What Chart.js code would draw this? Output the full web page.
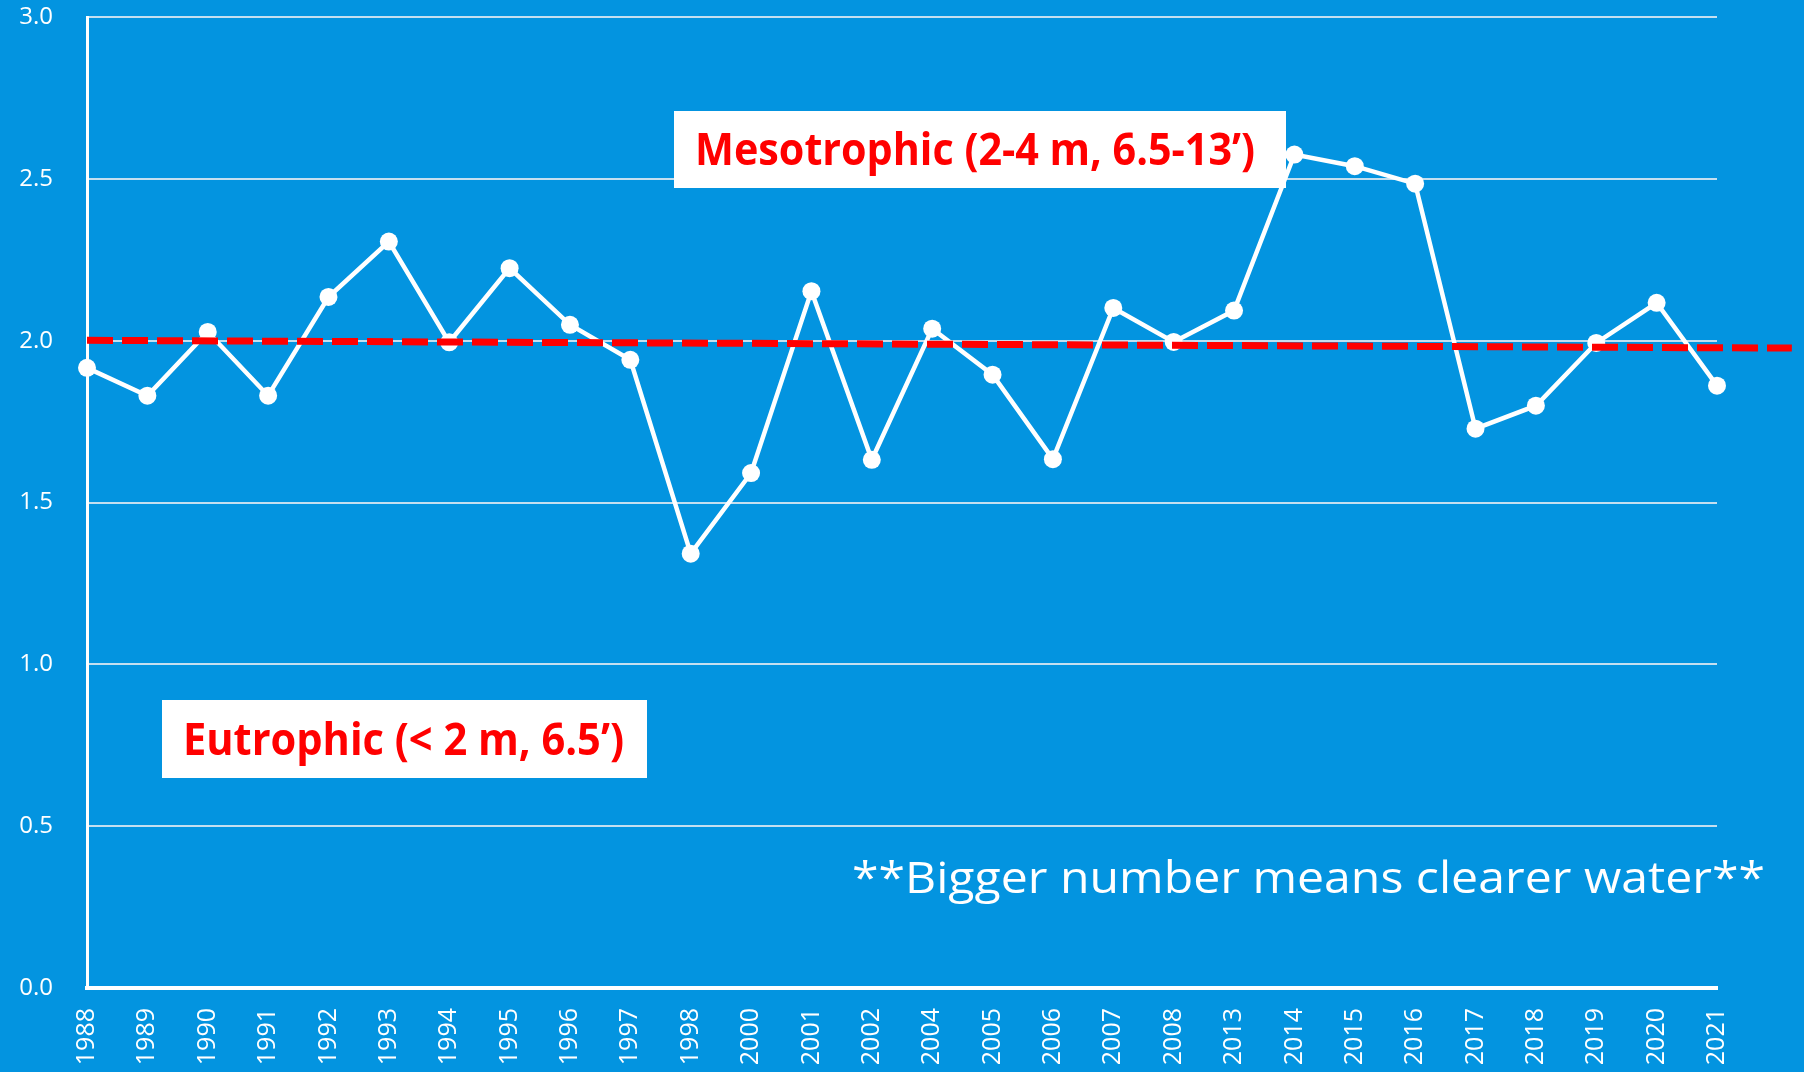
<!DOCTYPE html>
<html>
<head>
<meta charset="utf-8">
<script src="https://cdn.jsdelivr.net/npm/chart.js@4"></script>
<style>
html, body { margin: 0; padding: 0; background: #0394e0; }
#wrap { width: 1804px; height: 1072px; }
</style>
</head>
<body>
<div id="wrap"><canvas id="myChart" width="1804" height="1072"></canvas></div>
<script>
// secchi depth (m) by year
const years = ['1988','1989','1990','1991','1992','1993','1994','1995','1996','1997','1998',
               '2000','2001','2002','2004','2005','2006','2007','2008',
               '2013','2014','2015','2016','2017','2018','2019','2020','2021'];
const clarity = [1.916, 1.830, 2.027, 1.830, 2.135, 2.306, 1.995, 2.224, 2.049, 1.941, 1.342,
                 1.591, 2.153, 1.632, 2.037, 1.895, 1.634, 2.101, 1.996,
                 2.093, 2.575, 2.539, 2.485, 1.728, 1.799, 1.993, 2.117, 1.861];
// trend line ends (index position, value)
const trendPos = [0, 28.24];
const trendVal = [2.001, 1.977];

const notes = [
  { text: 'Mesotrophic (2-4 m, 6.5-13’)', box: [674, 111, 612, 77], x: 695, y: 165, w: 560, color: '#ff0000', font: 'bold 44px "Open Sans"' },
  { text: 'Eutrophic (< 2 m, 6.5’)', box: [162, 700, 485, 78], x: 183, y: 755, w: 441, color: '#ff0000', font: 'bold 44px "Open Sans"' },
  { text: '**Bigger number means clearer water**', box: null, x: 852, y: 893, w: 913, color: '#ffffff', font: '44px "Open Sans"' }
];

const notePlugin = {
  id: 'notes',
  afterDraw(chart) {
    const ctx = chart.ctx;
    notes.forEach(n => {
      ctx.save();
      if (n.box) {
        ctx.fillStyle = '#ffffff';
        ctx.fillRect(n.box[0], n.box[1], n.box[2], n.box[3]);
      }
      ctx.font = n.font;
      ctx.fillStyle = n.color;
      ctx.textBaseline = 'alphabetic';
      const mw = ctx.measureText(n.text).width;
      ctx.translate(n.x, n.y);
      ctx.scale(n.w / mw, 1);
      ctx.fillText(n.text, 0, 0);
      ctx.restore();
    });
  }
};

const ctx1 = document.querySelector('#myChart').getContext('2d');

let myChart = new Chart(ctx1, {
  type: 'line',
  data: {
    datasets: [{
      label: 'Trend',
      data: trendPos.map((p, i) => ({ x: p, y: trendVal[i] })),
      borderColor: '#ff0000',
      borderWidth: 7,
      borderDash: [26, 9],
      pointRadius: 0,
      clip: false,
      order: 0
    }, {
      label: 'Secchi',
      data: years.map((y, i) => ({ x: i, y: clarity[i] })),
      borderColor: '#ffffff',
      backgroundColor: '#ffffff',
      borderWidth: 4.5,
      pointRadius: 9,
      pointBorderWidth: 0,
      pointBackgroundColor: '#ffffff',
      tension: 0,
      clip: false,
      order: 1
    }]
  },
  options: {
    responsive: false,
    animation: false,
    devicePixelRatio: 1,
    layout: { autoPadding: false, padding: { top: 17, right: 87, bottom: 0, left: 0 } },
    plugins: { legend: { display: false }, tooltip: { enabled: false } },
    scales: {
      x: {
        type: 'linear',
        min: 0,
        max: years.length - 1,
        afterFit: s => { s.height = 84; },
        grid: { display: false, drawTicks: false },
        border: { display: true, color: '#ffffff', width: 4 },
        ticks: {
          stepSize: 1,
          autoSkip: false,
          minRotation: 90,
          maxRotation: 90,
          padding: 20,
          color: '#ffffff',
          font: { family: 'Open Sans', size: 25 },
          callback: v => years[v]
        }
      },
      y: {
        min: 0,
        max: 3,
        // tick padding would otherwise be added above the top gridline
        afterFit: s => { s.width = 87; s.paddingTop = 10; s.paddingBottom = 10; },
        grid: { color: 'rgba(230,236,242,0.85)', lineWidth: 2, drawTicks: false },
        border: { display: true, color: '#ffffff', width: 3 },
        ticks: {
          stepSize: 0.5,
          padding: 34,
          color: '#ffffff',
          font: { family: 'Open Sans', size: 24 },
          callback: v => v.toFixed(1)
        }
      }
    }
  },
  plugins: [notePlugin]
});
</script>
</body>
</html>
